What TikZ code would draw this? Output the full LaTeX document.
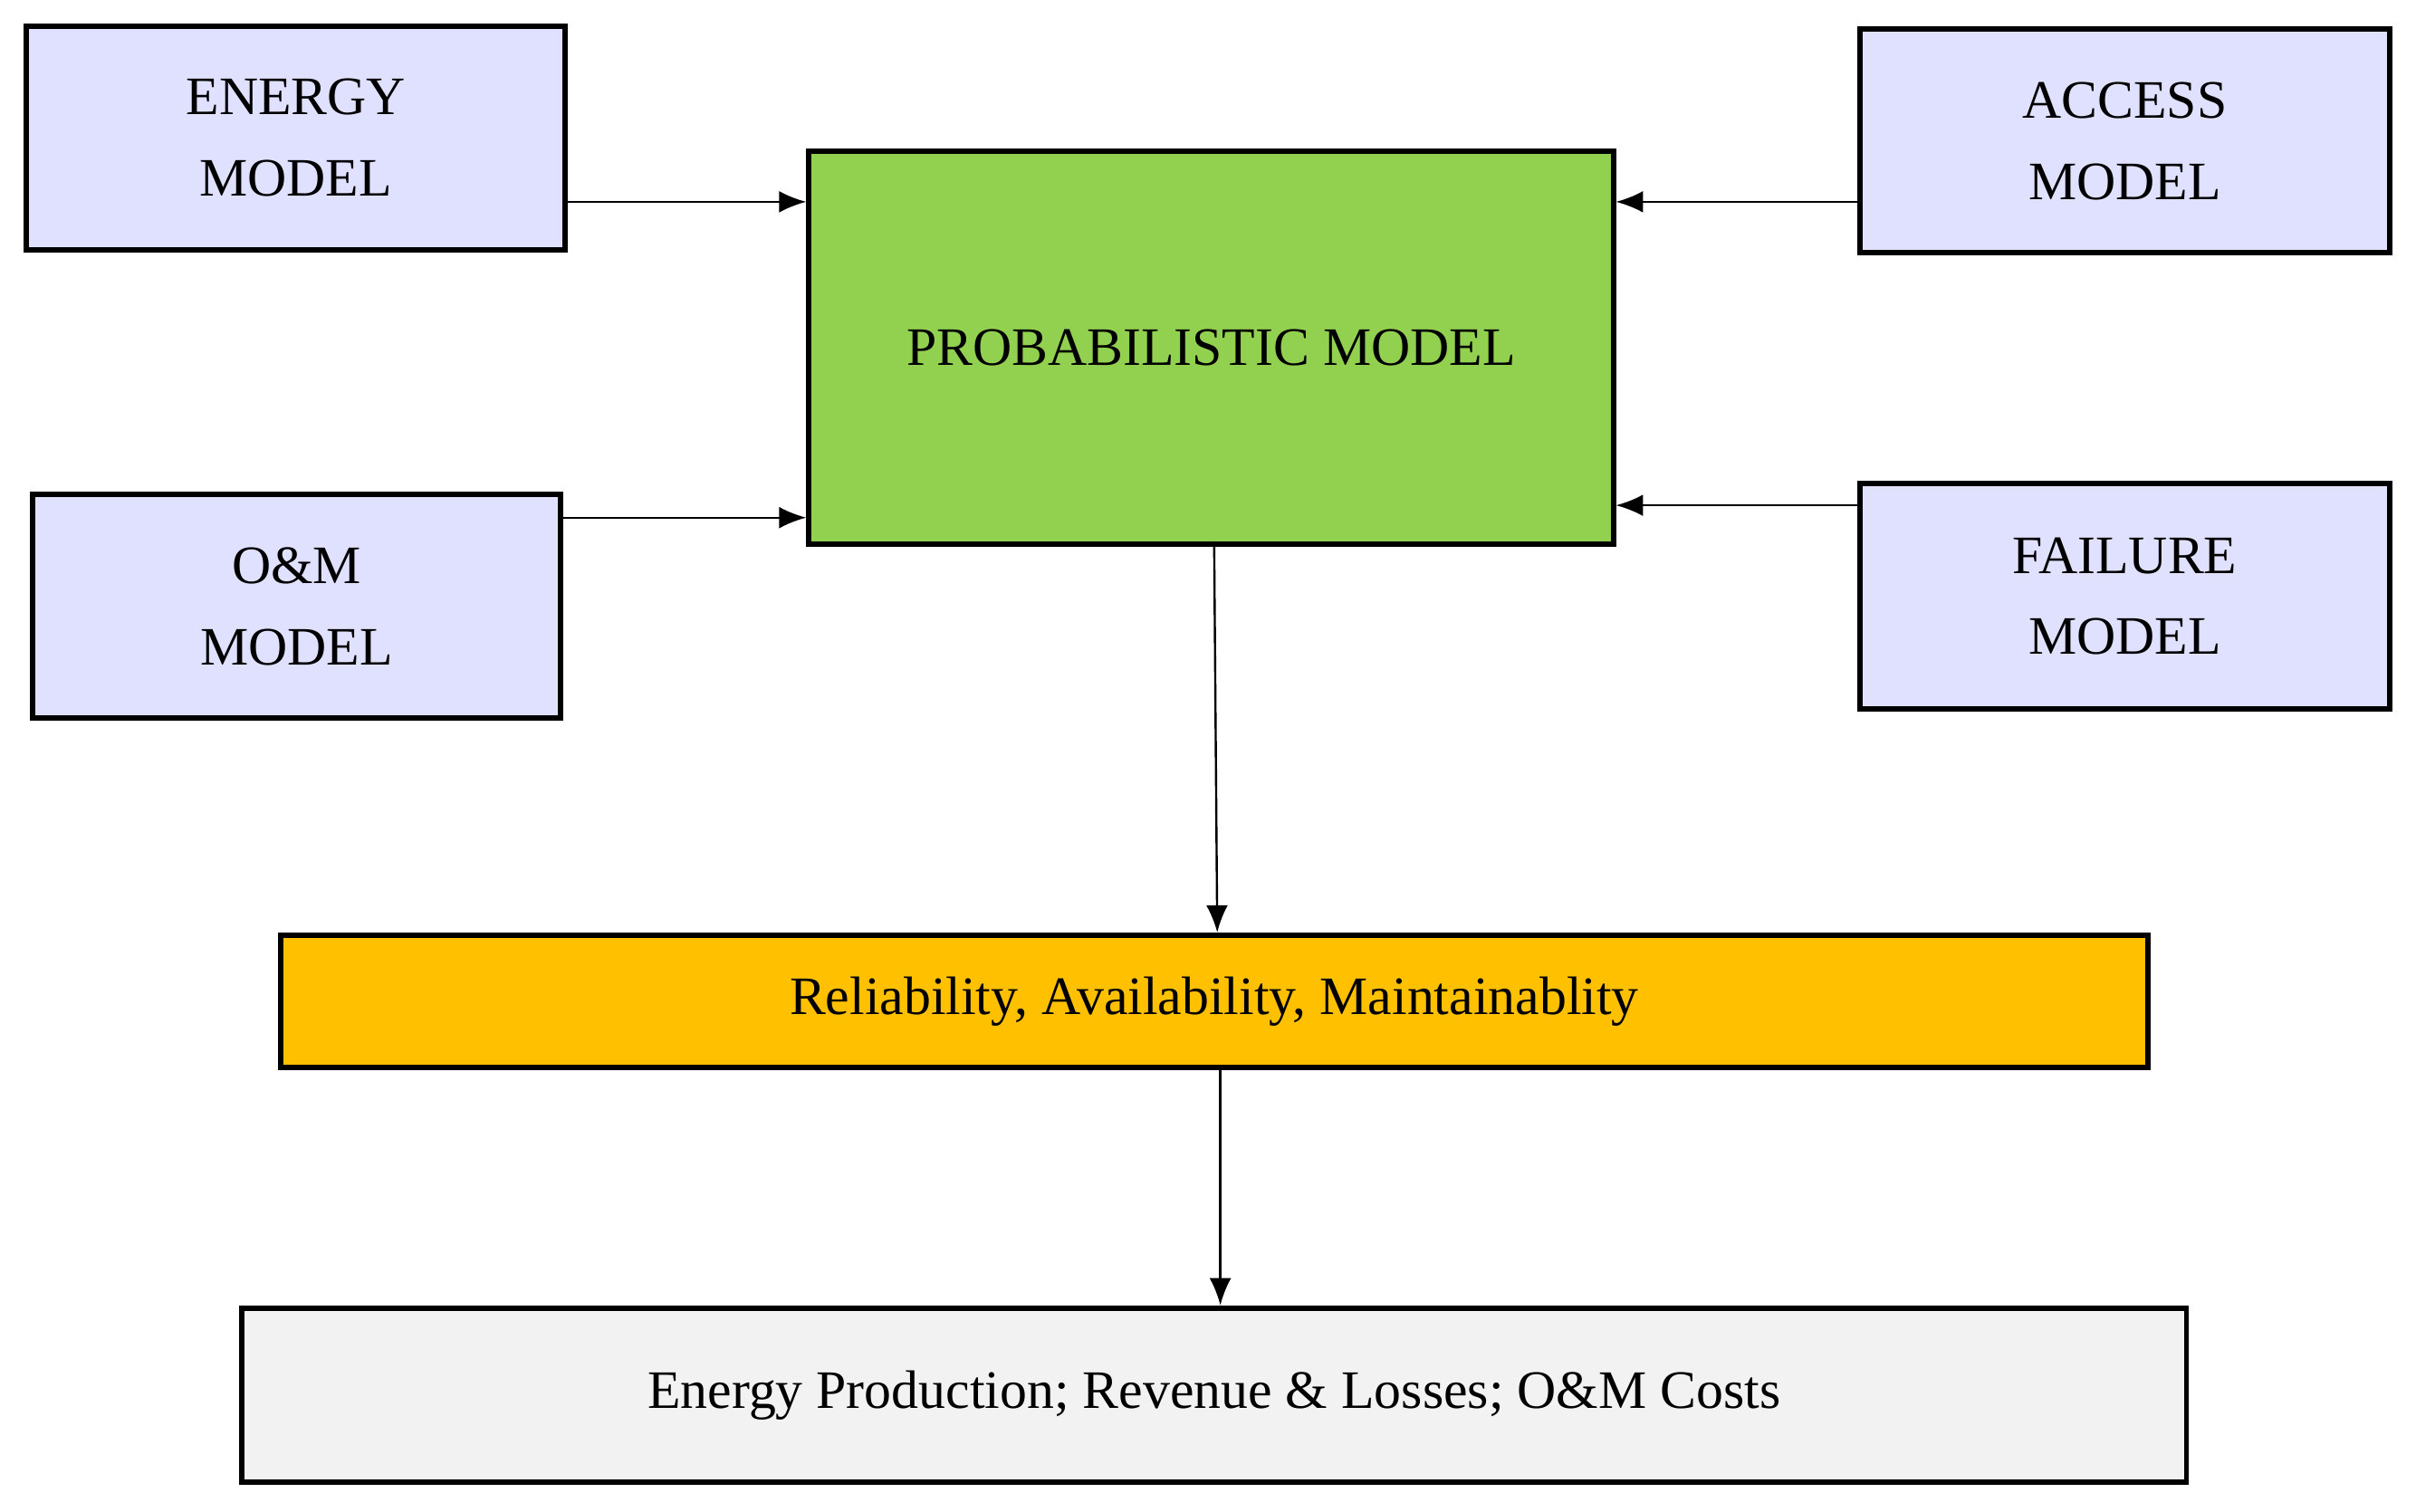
\documentclass[tikz,border=0pt]{standalone}
\usepackage{fontspec}
\setmainfont{Liberation Serif}
\usetikzlibrary{arrows.meta}
\begin{document}
\begin{tikzpicture}[x=0.02cm,y=-0.02cm,
  box/.style={draw,line width=2pt,inner sep=0pt,align=center,font=\fontsize{20}{30}\selectfont},
  arr/.style={-{Latex[length=10pt,width=8pt]},line width=0.8pt}]
\useasboundingbox (0,0) rectangle (1568,981);
\node[box,fill=blue!12!white,minimum width=350*0.02cm,minimum height=145*0.02cm] (energy) at (192,89.5) {ENERGY\\MODEL};
\node[box,fill=blue!12!white,minimum width=344*0.02cm,minimum height=145*0.02cm] (access) at (1379,91.5) {ACCESS\\MODEL};
\node[box,fill=blue!12!white,minimum width=343*0.02cm,minimum height=145*0.02cm] (om) at (192.5,393.5) {O\&M\\MODEL};
\node[box,fill=blue!12!white,minimum width=344*0.02cm,minimum height=146*0.02cm] (fail) at (1379,387) {FAILURE\\MODEL};
\node[box,fill={rgb,255:red,146;green,208;blue,80},minimum width=522*0.02cm,minimum height=255*0.02cm] (prob) at (786,225.5) {PROBABILISTIC MODEL};
\node[box,fill={rgb,255:red,255;green,192;blue,0},minimum width=1212*0.02cm,minimum height=86*0.02cm] (ram) at (788,650) {Reliability, Availability, Maintainablity};
\node[box,fill=gray!10,minimum width=1262*0.02cm,minimum height=113*0.02cm] (out) at (788,905.5) {Energy Production; Revenue \& Losses; O\&M Costs};
\draw[arr] (energy.east |- 0,131) -- (prob.west |- 0,131);
\draw[arr] (om.east |- 0,336) -- (prob.west |- 0,336);
\draw[arr] (access.west |- 0,131) -- (prob.east |- 0,131);
\draw[arr] (fail.west |- 0,328) -- (prob.east |- 0,328);
\draw[arr] (788,353) -- (ram.north -| 790,0);
\draw[arr] (ram.south -| 792,0) -- (out.north -| 792,0);
\end{tikzpicture}
\end{document}
